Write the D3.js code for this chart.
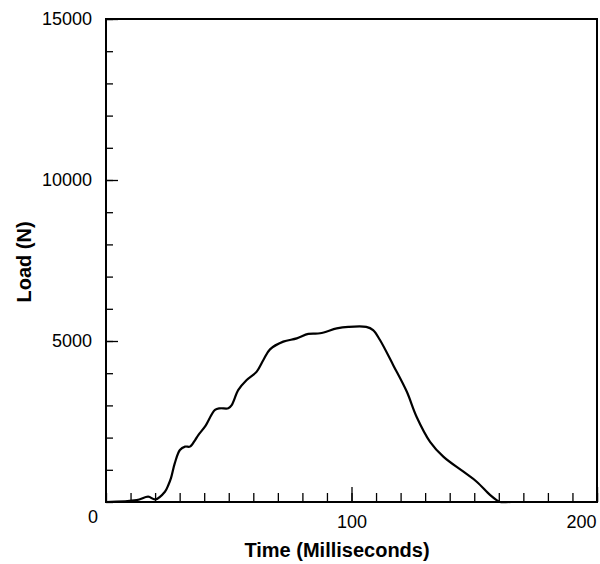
<!DOCTYPE html>
<html>
<head>
<meta charset="utf-8">
<script src="https://cdn.jsdelivr.net/npm/d3@7"></script>
<style>
  body { margin: 0; background: #fff; }
  svg { display: block; font-family: "Liberation Sans", Arial, sans-serif; }
</style>
</head>
<body>
<div id="chart"></div>
<script>
// data (time in ms, load in N)
const timeMs = [0, 12.5, 17.2, 20, 24, 25.4, 26.5, 28, 30.1, 32.2, 34.2, 36.3, 37.6, 40.3, 44.4, 46.4,
  49.8, 51.2, 53.9, 57.3, 61.4, 64.1, 66.8, 72.2, 77.7, 82.4, 87.2, 94, 98.7, 106, 108.8, 111.6,
  117, 122.5, 126.5, 132, 137.4, 145.6, 151, 156.4, 159.1, 160.5, 165, 200];
const loadN = [0, 60, 165, 80, 320, 530, 750, 1200, 1615, 1720, 1720, 1925, 2080, 2340, 2860, 2910,
  2910, 3010, 3480, 3790, 4050, 4410, 4740, 4980, 5080, 5220, 5240, 5390, 5440, 5440, 5340, 5030,
  4250, 3430, 2650, 1870, 1410, 940, 630, 220, 60, 0, 0, 0];

const xMinorTicks = d3.range(0, 201, 10);
const xMajorTicks = [100, 200];
const yMinorTicks = d3.range(0, 15001, 1000);
const yMajorTicks = [5000, 10000, 15000];

const W = 600, H = 564;
const plotL = 106, plotR = 597, plotT = 19, plotB = 502;

const svg = d3.select("#chart").append("svg")
  .attr("width", W).attr("height", H);

const x = d3.scaleLinear().domain([0, 200]).range([plotL, plotR]);
const y = d3.scaleLinear().domain([0, 15000]).range([plotB, plotT]);

// ticks pointing inward
function styleAxis(g) {
  g.select(".domain").remove();
  g.selectAll(".tick line").attr("stroke", "#000").attr("stroke-width", 1.3);
  g.selectAll(".tick text").attr("fill", "#000").style("font-size", "18px");
}

svg.append("g")
  .attr("transform", `translate(0,${plotB})`)
  .call(d3.axisBottom(x).tickValues(xMinorTicks).tickSize(-9).tickFormat(""))
  .call(styleAxis);

const xMaj = svg.append("g")
  .attr("transform", `translate(0,${plotB})`)
  .call(d3.axisBottom(x).tickValues(xMajorTicks).tickSize(-15).tickPadding(13).tickFormat(d3.format("d")))
  .call(styleAxis);
xMaj.selectAll(".tick text").filter(d => d === 200).attr("text-anchor", "end").attr("x", -1);

svg.append("g")
  .attr("transform", `translate(${plotL},0)`)
  .call(d3.axisLeft(y).tickValues(yMinorTicks).tickSize(-7).tickFormat(""))
  .call(styleAxis);

svg.append("g")
  .attr("transform", `translate(${plotL},0)`)
  .call(d3.axisLeft(y).tickValues(yMajorTicks).tickSize(-12).tickPadding(14).tickFormat(d3.format("d")))
  .call(styleAxis);

// shared origin label
svg.append("text")
  .attr("x", 93).attr("y", 523)
  .attr("text-anchor", "middle")
  .style("font-size", "18px")
  .text("0");

// frame
svg.append("rect")
  .attr("x", plotL).attr("y", plotT)
  .attr("width", plotR - plotL).attr("height", plotB - plotT)
  .attr("fill", "none").attr("stroke", "#000").attr("stroke-width", 2);

// curve
const line = d3.line()
  .x((d, i) => x(timeMs[i]))
  .y((d, i) => y(loadN[i]))
  .curve(d3.curveCatmullRom.alpha(0.5));

svg.append("path")
  .datum(loadN)
  .attr("d", line)
  .attr("fill", "none")
  .attr("stroke", "#000")
  .attr("stroke-width", 2.2);

// axis titles
svg.append("text")
  .attr("x", 337).attr("y", 557)
  .attr("text-anchor", "middle")
  .style("font-size", "20px").style("font-weight", "bold")
  .text("Time (Milliseconds)");

svg.append("text")
  .attr("transform", "translate(31,262) rotate(-90)")
  .attr("text-anchor", "middle")
  .style("font-size", "20px").style("font-weight", "bold")
  .text("Load (N)");
</script>
</body>
</html>
